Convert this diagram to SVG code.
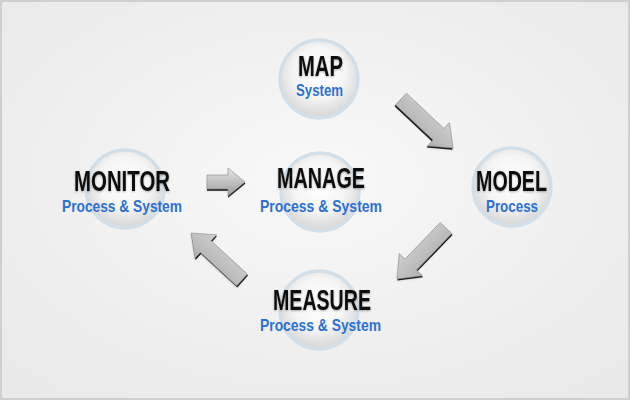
<svg xmlns="http://www.w3.org/2000/svg" width="630" height="400" viewBox="0 0 630 400">
  <defs>
    <radialGradient id="bg" cx="50%" cy="45%" r="70%">
      <stop offset="0" stop-color="#f8f8f8"/>
      <stop offset="1" stop-color="#e9e9e9"/>
    </radialGradient>
    <radialGradient id="ball" cx="50%" cy="42%" r="55%">
      <stop offset="0" stop-color="#ffffff"/>
      <stop offset="0.6" stop-color="#f5f5f5"/>
      <stop offset="1" stop-color="#d9d9d9"/>
    </radialGradient>
    <linearGradient id="arr" x1="0" y1="0" x2="0" y2="1">
      <stop offset="0" stop-color="#e6e6e6"/>
      <stop offset="1" stop-color="#9c9c9c"/>
    </linearGradient>
    <linearGradient id="arrD" x1="1" y1="0" x2="0" y2="1">
      <stop offset="0" stop-color="#e4e4e4"/>
      <stop offset="1" stop-color="#9a9a9a"/>
    </linearGradient>
    <linearGradient id="arrL" x1="0" y1="0" x2="1" y2="1">
      <stop offset="0" stop-color="#e4e4e4"/>
      <stop offset="1" stop-color="#9a9a9a"/>
    </linearGradient>
    <filter id="tsh" x="-10%" y="-20%" width="120%" height="150%">
      <feDropShadow dx="0" dy="1" stdDeviation="0.8" flood-color="#000" flood-opacity="0.3"/>
    </filter>
    <filter id="ash" x="-20%" y="-20%" width="140%" height="140%">
      <feGaussianBlur stdDeviation="1.2"/>
    </filter>
  </defs>
  <style>
    .ring { fill: url(#ball); stroke: #d3dfe8; stroke-width: 3.5; }
    .title { font-family: "Liberation Sans", Arial, sans-serif; font-weight: bold; font-size: 29px; fill: #111111; }
    .sub { font-family: "Liberation Sans", Arial, sans-serif; font-weight: bold; font-size: 17px; fill: #2d70d2; }
    .shadow { fill: #1a1a1a; }
    .soft { fill: #000; opacity: 0.15; }
    .head { stroke: #8a8a8a; stroke-width: 0.6; }
  </style>

  <rect x="1" y="1" width="628" height="398" fill="url(#bg)" stroke="#cfcfcf" stroke-width="2"/>

  <g id="connectors">
    <g id="arrow-map-model">
      <polygon class="soft" filter="url(#ash)" points="395.5,106.8 433,142.1 427.5,147.9 453,150 449.4,124.6 443.9,130.5 406.5,95.2"/>
      <polygon class="shadow" points="394.5,106.3 432,141.6 426.5,147.4 452.5,149.8 448.9,124.1 443.4,130 405.5,94.7"/>
      <polygon class="head" fill="url(#arrD)" points="395.5,104.8 433,140.1 427.5,145.9 453,148 449.4,122.6 443.9,128.5 406.5,93.2"/>
    </g>
    <g id="arrow-model-measure">
      <polygon class="soft" filter="url(#ash)" points="440.2,224.5 405.1,261 399.3,255.5 397,281 422.4,277.7 416.6,272.1 451.8,235.5"/>
      <polygon class="shadow" points="440.7,223.8 405.6,260.4 399.8,254.9 397.5,280.6 423,277.2 417.2,271.6 452.5,235"/>
      <polygon class="head" fill="url(#arrL)" points="440.2,222.5 405.1,259 399.3,253.5 397,279 422.4,275.7 416.6,270.1 451.8,233.5"/>
    </g>
    <g id="arrow-measure-monitor">
      <polygon class="soft" filter="url(#ash)" points="247.4,276.1 211.1,242.7 216.6,236.8 191,235 194.9,260.3 200.3,254.4 236.6,287.9"/>
      <polygon class="shadow" points="248,275.6 211.7,242.2 217,236.3 191.5,234.7 195.6,259.9 201,254 237.3,287.4"/>
      <polygon class="head" fill="url(#arrD)" points="247.4,274.1 211.1,240.7 216.6,234.8 191,233 194.9,258.3 200.3,252.4 236.6,285.9"/>
    </g>
    <g id="arrow-monitor-manage">
      <polygon class="soft" filter="url(#ash)" points="207,177 228,177 228,170 245,184 228,198 228,191 207,191"/>
      <polygon class="shadow" points="207,176.5 228,176.5 228,169.5 245.5,183.5 228,197.8 228,190.8 207,190.8"/>
      <polygon class="head" fill="url(#arr)" points="207,175 228,175 228,168 245,182 228,196 228,189 207,189"/>
    </g>
  </g>

  <g id="node-map">
    <circle class="ring" cx="319" cy="79" r="39"/>
    <text class="title" filter="url(#tsh)" x="298" y="76" textLength="45" lengthAdjust="spacingAndGlyphs">MAP</text>
    <text class="sub" style="font-size:16px" x="296" y="96" textLength="47" lengthAdjust="spacingAndGlyphs">System</text>
  </g>

  <g id="node-model">
    <circle class="ring" cx="512" cy="187" r="39"/>
    <text class="title" filter="url(#tsh)" x="476" y="191" textLength="71" lengthAdjust="spacingAndGlyphs">MODEL</text>
    <text class="sub" x="486" y="212" textLength="52" lengthAdjust="spacingAndGlyphs">Process</text>
  </g>

  <g id="node-manage">
    <circle class="ring" cx="320" cy="192" r="39"/>
    <text class="title" filter="url(#tsh)" x="277" y="188" textLength="88" lengthAdjust="spacingAndGlyphs">MANAGE</text>
    <text class="sub" x="260" y="212" textLength="122" lengthAdjust="spacingAndGlyphs">Process &amp; System</text>
  </g>

  <g id="node-monitor">
    <circle class="ring" cx="125" cy="189" r="39"/>
    <text class="title" filter="url(#tsh)" x="74" y="191" textLength="96" lengthAdjust="spacingAndGlyphs">MONITOR</text>
    <text class="sub" x="62" y="212" textLength="120" lengthAdjust="spacingAndGlyphs">Process &amp; System</text>
  </g>

  <g id="node-measure">
    <circle class="ring" cx="319" cy="310" r="39"/>
    <text class="title" filter="url(#tsh)" x="273" y="310" textLength="98" lengthAdjust="spacingAndGlyphs">MEASURE</text>
    <text class="sub" x="260" y="331" textLength="121" lengthAdjust="spacingAndGlyphs">Process &amp; System</text>
  </g>
</svg>
